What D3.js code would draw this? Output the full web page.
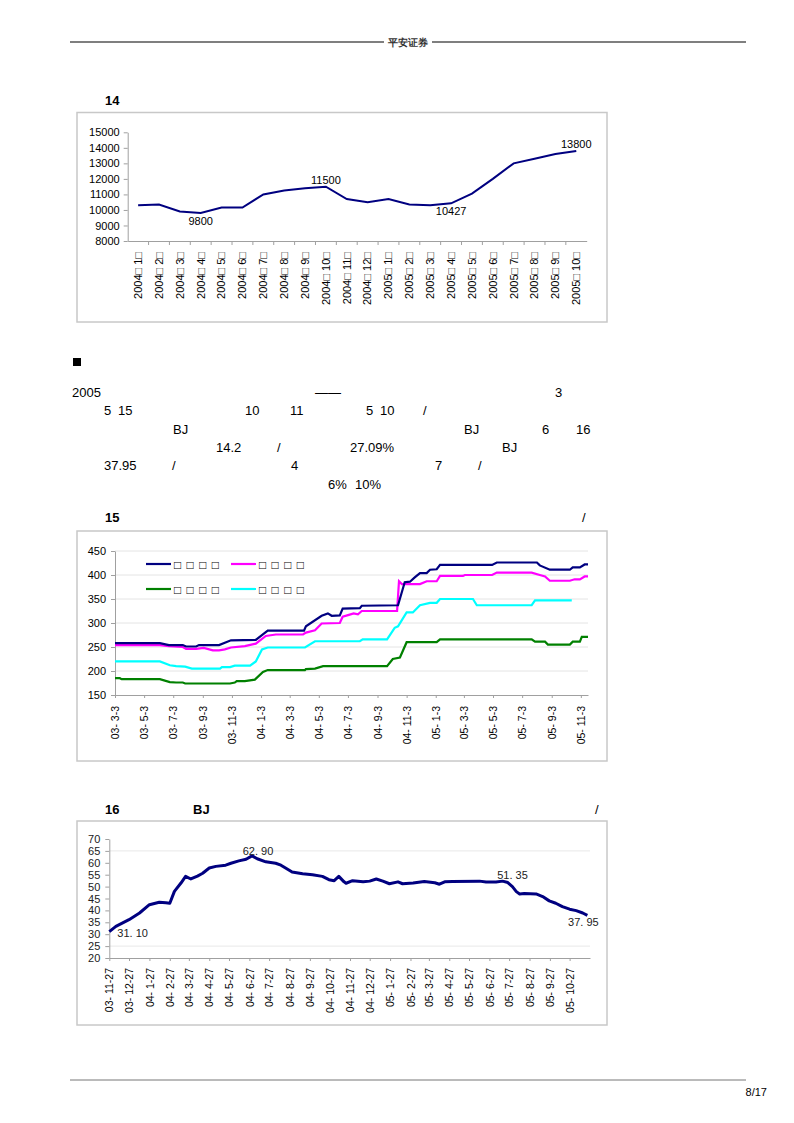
<!DOCTYPE html>
<html>
<head>
<meta charset="utf-8">
<script src="https://cdn.jsdelivr.net/npm/d3@7"></script>
<style>
  body { margin: 0; background: #fff; }
  svg text { font-family: "Liberation Sans", Arial, sans-serif; }
</style>
</head>
<body>
<svg id="page" width="794" height="1123"></svg>
<script>
// ---------------- data ----------------

// chart 14: monthly price
const months14 = [
  "2004□ 1□", "2004□ 2□", "2004□ 3□", "2004□ 4□", "2004□ 5□", "2004□ 6□",
  "2004□ 7□", "2004□ 8□", "2004□ 9□", "2004□ 10□", "2004□ 11□", "2004□ 12□",
  "2005□ 1□", "2005□ 2□", "2005□ 3□", "2005□ 4□", "2005□ 5□", "2005□ 6□",
  "2005□ 7□", "2005□ 8□", "2005□ 9□", "2005□ 10□"
];
const price14 = [
  10300, 10350, 9900, 9800, 10150, 10150, 11000, 11250, 11400, 11500, 10700,
  10500, 10700, 10350, 10300, 10427, 11050, 12000, 13000, 13300, 13600, 13800
];
const yTicks14 = [8000, 9000, 10000, 11000, 12000, 13000, 14000, 15000];
// [index, placement]
const marks14 = [[3, "below"], [9, "above"], [15, "below"], [21, "above"]];

// chart 15: four regional prices
const ticks15 = [
  "03- 3-3", "03- 5-3", "03- 7-3", "03- 9-3", "03- 11-3", "04- 1-3", "04- 3-3",
  "04- 5-3", "04- 7-3", "04- 9-3", "04- 11-3", "05- 1-3", "05- 3-3", "05- 5-3",
  "05- 7-3", "05- 9-3", "05- 11-3"
];
const yTicks15 = [150, 200, 250, 300, 350, 400, 450];
const names15 = ["□ □ □ □", "□ □ □ □", "□ □ □ □", "□ □ □ □"];
const colors15 = ["#000080", "#ff00ff", "#008000", "#00ffff"];

const navy15 = [
  ["2003-03-03", 258], ["2003-06-05", 258], ["2003-06-24", 254], ["2003-07-23", 254],
  ["2003-07-30", 251], ["2003-08-20", 251], ["2003-08-26", 254], ["2003-10-07", 254],
  ["2003-11-01", 264], ["2003-12-23", 265], ["2004-01-17", 284], ["2004-04-02", 284],
  ["2004-04-06", 293], ["2004-05-09", 315], ["2004-05-22", 320], ["2004-05-30", 315],
  ["2004-06-16", 316], ["2004-06-22", 330], ["2004-07-28", 331], ["2004-08-01", 336],
  ["2004-10-16", 337], ["2004-10-30", 385], ["2004-11-10", 386], ["2004-11-20", 395],
  ["2004-12-01", 404], ["2004-12-15", 404], ["2004-12-22", 411], ["2005-01-05", 412],
  ["2005-01-12", 421], ["2005-05-01", 421], ["2005-05-11", 426], ["2005-08-03", 426],
  ["2005-08-09", 420], ["2005-08-30", 411], ["2005-10-11", 411], ["2005-10-17", 416],
  ["2005-11-01", 416], ["2005-11-11", 422], ["2005-11-18", 422]
];
const magenta15 = [
  ["2003-03-03", 254], ["2003-06-05", 254], ["2003-06-24", 252], ["2003-07-23", 250],
  ["2003-07-30", 246], ["2003-08-20", 246], ["2003-09-05", 248], ["2003-09-24", 243],
  ["2003-10-07", 243], ["2003-10-19", 245], ["2003-11-01", 249], ["2003-11-30", 252],
  ["2003-12-23", 257], ["2004-01-13", 273], ["2004-02-03", 276], ["2004-03-31", 276],
  ["2004-04-06", 280], ["2004-04-25", 285], ["2004-05-09", 299], ["2004-06-16", 300],
  ["2004-06-22", 313], ["2004-07-05", 317], ["2004-07-15", 320], ["2004-07-24", 318],
  ["2004-08-01", 325], ["2004-10-14", 325], ["2004-10-18", 387], ["2004-10-24", 381],
  ["2004-12-01", 381], ["2004-12-15", 387], ["2005-01-05", 387], ["2005-01-12", 398],
  ["2005-03-01", 398], ["2005-03-05", 400], ["2005-05-01", 400], ["2005-05-11", 405],
  ["2005-07-23", 405], ["2005-08-09", 400], ["2005-08-20", 397], ["2005-08-30", 388],
  ["2005-10-11", 388], ["2005-10-21", 391], ["2005-11-01", 391], ["2005-11-11", 397],
  ["2005-11-18", 397]
];
const green15 = [
  ["2003-03-03", 185], ["2003-03-13", 185], ["2003-03-17", 183], ["2003-06-05", 183],
  ["2003-06-26", 177], ["2003-07-09", 176], ["2003-07-23", 176], ["2003-07-28", 174],
  ["2003-10-30", 174], ["2003-11-09", 176], ["2003-11-13", 179], ["2003-11-30", 179],
  ["2003-12-21", 182], ["2004-01-07", 198], ["2004-01-17", 202], ["2004-04-04", 202],
  ["2004-04-06", 204], ["2004-04-25", 205], ["2004-05-12", 210], ["2004-09-23", 210],
  ["2004-10-05", 225], ["2004-10-20", 228], ["2004-11-03", 260], ["2005-01-05", 260],
  ["2005-01-12", 266], ["2005-07-23", 266], ["2005-07-30", 261], ["2005-08-20", 261],
  ["2005-08-26", 255], ["2005-10-11", 255], ["2005-10-17", 261], ["2005-11-01", 261],
  ["2005-11-05", 271], ["2005-11-18", 271]
];
const cyan15 = [
  ["2003-03-03", 220], ["2003-06-05", 220], ["2003-06-26", 212], ["2003-07-09", 210],
  ["2003-07-28", 209], ["2003-08-11", 205], ["2003-10-09", 205], ["2003-10-13", 208],
  ["2003-10-30", 208], ["2003-11-09", 211], ["2003-12-11", 211], ["2003-12-23", 220],
  ["2004-01-05", 245], ["2004-01-17", 249], ["2004-04-04", 249], ["2004-04-25", 262],
  ["2004-07-28", 262], ["2004-08-03", 266], ["2004-09-23", 266], ["2004-10-09", 290],
  ["2004-10-16", 293], ["2004-11-03", 322], ["2004-11-16", 322], ["2004-12-01", 337],
  ["2004-12-22", 342], ["2005-01-05", 342], ["2005-01-12", 350], ["2005-03-22", 350],
  ["2005-03-30", 337], ["2005-07-23", 337], ["2005-07-30", 347], ["2005-10-15", 347]
];

// chart 16: BJ price
const ticks16 = [
  "03- 11-27", "03- 12-27", "04- 1-27", "04- 2-27", "04- 3-27", "04- 4-27",
  "04- 5-27", "04- 6-27", "04- 7-27", "04- 8-27", "04- 9-27", "04- 10-27",
  "04- 11-27", "04- 12-27", "05- 1-27", "05- 2-27", "05- 3-27", "05- 4-27",
  "05- 5-27", "05- 6-27", "05- 7-27", "05- 8-27", "05- 9-27", "05- 10-27"
];
const yTicks16 = [20, 25, 30, 35, 40, 45, 50, 55, 60, 65, 70];
const grid16 = [25, 65];
const bj16 = [
  ["2003-11-27", 31.1], ["2003-12-07", 33.3], ["2003-12-27", 36.1], ["2004-01-12", 38.9],
  ["2004-01-27", 42.4], ["2004-02-11", 43.4], ["2004-02-21", 43.2], ["2004-02-27", 43.0],
  ["2004-03-05", 48.0], ["2004-03-15", 51.5], ["2004-03-22", 54.3], ["2004-03-30", 53.2],
  ["2004-04-09", 54.4], ["2004-04-17", 55.6], ["2004-04-27", 57.8], ["2004-05-07", 58.5],
  ["2004-05-22", 59.0], ["2004-05-30", 59.8], ["2004-06-11", 60.8], ["2004-06-22", 61.5],
  ["2004-07-01", 62.9], ["2004-07-09", 61.7], ["2004-07-22", 60.4], ["2004-08-06", 59.8],
  ["2004-08-14", 59.0], ["2004-08-21", 57.8], ["2004-08-31", 56.1], ["2004-09-16", 55.4],
  ["2004-10-01", 55.0], ["2004-10-16", 54.3], ["2004-10-26", 52.9], ["2004-11-03", 52.5],
  ["2004-11-10", 54.3], ["2004-11-18", 52.0], ["2004-11-21", 51.4], ["2004-12-01", 52.5],
  ["2004-12-17", 52.0], ["2004-12-27", 52.3], ["2005-01-06", 53.2], ["2005-01-16", 52.3],
  ["2005-01-26", 51.2], ["2005-02-08", 52.0], ["2005-02-15", 51.2], ["2005-03-03", 51.5],
  ["2005-03-20", 52.1], ["2005-04-05", 51.6], ["2005-04-12", 51.0], ["2005-04-20", 52.0],
  ["2005-05-02", 52.1], ["2005-06-12", 52.3], ["2005-06-22", 51.9], ["2005-07-07", 51.9],
  ["2005-07-17", 52.3], ["2005-07-25", 51.7], ["2005-08-01", 50.0], ["2005-08-07", 47.9],
  ["2005-08-12", 46.9], ["2005-08-19", 47.1], ["2005-09-06", 46.9], ["2005-09-16", 45.8],
  ["2005-09-26", 44.0], ["2005-10-06", 43.0], ["2005-10-16", 41.6], ["2005-10-27", 40.5],
  ["2005-11-06", 39.9], ["2005-11-16", 38.9], ["2005-11-23", 37.95]
];
// [date, label]
const marks16 = [
  ["2003-11-27", "31. 10"], ["2004-07-01", "62. 90"],
  ["2005-07-17", "51. 35"], ["2005-11-23", "37. 95"]
];

// ---------------- page ----------------

const parse = d3.timeParse("%Y-%m-%d");
const svg = d3.select("#page");
svg.append("rect").attr("width", 794).attr("height", 1123).attr("fill", "#fff");

function parse_tick(label) {
  // "03- 11-27" -> Date
  const p = label.replace(/\s/g, "").split("-");
  return new Date(2000 + +p[0], +p[1] - 1, +p[2]);
}

function style_axis(g, size = 11) {
  g.attr("font-family", null).attr("font-size", size);
  g.select(".domain").attr("stroke", "#a0a0a0");
  g.selectAll(".tick line").attr("stroke", "#a0a0a0");
  g.selectAll(".tick text").attr("fill", "#000");
}

function rotate_labels(g, offset) {
  g.selectAll(".tick text")
    .attr("transform", "rotate(-90)")
    .attr("text-anchor", "end")
    .attr("x", -offset)
    .attr("y", 0)
    .attr("dy", "0.35em");
}

function frame(x0, y0, x1, y1) {
  svg.append("rect")
    .attr("x", x0).attr("y", y0)
    .attr("width", x1 - x0).attr("height", y1 - y0)
    .attr("fill", "none").attr("stroke", "#c8c8c8").attr("stroke-width", 1.5);
}

function txt(x, y, s, opts = {}) {
  return svg.append("text")
    .attr("x", x).attr("y", y)
    .attr("font-size", opts.size || 13)
    .attr("font-weight", opts.bold ? "bold" : null)
    .attr("text-anchor", opts.anchor || "start")
    .attr("fill", opts.fill || "#000")
    .text(s);
}

// header and footer
svg.append("line").attr("x1", 70).attr("x2", 384).attr("y1", 42).attr("y2", 42)
  .attr("stroke", "#555").attr("stroke-width", 1.6);
svg.append("line").attr("x1", 432).attr("x2", 746).attr("y1", 42).attr("y2", 42)
  .attr("stroke", "#555").attr("stroke-width", 1.6);
txt(408, 45.5, "平安证券", { size: 9.5, bold: true, anchor: "middle", fill: "#333" })
  .attr("font-family", "Noto Sans CJK SC");
svg.append("line").attr("x1", 70).attr("x2", 746).attr("y1", 1080).attr("y2", 1080)
  .attr("stroke", "#777").attr("stroke-width", 1);
txt(767, 1096, "8/17", { size: 11, anchor: "end" }).attr("font-family", "Liberation Serif");

// ---------------- chart 14 ----------------
txt(105, 104.5, "14", { bold: true });
frame(77, 112.5, 607, 322);

const x14 = d3.scaleBand().domain(months14).range([127.7, 586.7]);
const y14 = d3.scaleLinear().domain([8000, 15000]).range([241, 132.3]);

svg.append("g").attr("transform", "translate(127.7,0)")
  .call(d3.axisLeft(y14).tickValues(yTicks14).tickFormat(d3.format("d"))
    .tickSize(4).tickPadding(4).tickSizeOuter(0))
  .call(style_axis);

svg.append("g").attr("transform", "translate(0,241)")
  .call(d3.axisBottom(x14).tickSize(0).tickSizeOuter(0))
  .call(style_axis)
  .call((g) => rotate_labels(g, 11));

// ticks on band edges
svg.append("g").selectAll("line")
  .data(months14.slice(1))
  .join("line")
  .attr("x1", (d) => x14(d)).attr("x2", (d) => x14(d))
  .attr("y1", 241).attr("y2", 245)
  .attr("stroke", "#a0a0a0");

const line14 = d3.line()
  .x((d, i) => x14(months14[i]) + x14.bandwidth() / 2)
  .y((d) => y14(d));
svg.append("path").datum(price14)
  .attr("d", line14)
  .attr("fill", "none").attr("stroke", "#000080").attr("stroke-width", 2);

svg.append("g").selectAll("text")
  .data(marks14)
  .join("text")
  .attr("x", (d) => x14(months14[d[0]]) + x14.bandwidth() / 2)
  .attr("y", (d) => y14(price14[d[0]]) + (d[1] === "above" ? -3 : 12))
  .attr("text-anchor", "middle")
  .attr("font-size", 11)
  .text((d) => price14[d[0]]);

// ---------------- text block ----------------
svg.append("rect").attr("x", 73).attr("y", 358).attr("width", 8).attr("height", 8).attr("fill", "#000");
const words = [
  [72, 396.5, "2005"], [315, 396.5, "——"], [555, 396.5, "3"],
  [104, 415, "5"], [118, 415, "15"], [245, 415, "10"], [290, 415, "11"],
  [366, 415, "5"], [380, 415, "10"], [423, 415, "/"],
  [173, 433.5, "BJ"], [464, 433.5, "BJ"], [542, 433.5, "6"], [576, 433.5, "16"],
  [216, 452, "14.2"], [277, 452, "/"], [350, 452, "27.09%"], [502, 452, "BJ"],
  [104, 470, "37.95"], [172, 470, "/"], [291, 470, "4"], [435, 470, "7"], [478, 470, "/"],
  [328, 488.5, "6%"], [355, 488.5, "10%"]
];
words.forEach((w) => txt(w[0], w[1], w[2]));

// ---------------- chart 15 ----------------
txt(105, 521.5, "15", { bold: true });
txt(582, 521.5, "/");
frame(77, 531, 607, 761);

const x15 = d3.scaleTime().domain([parse("2003-03-03"), parse("2005-11-18")]).range([115, 588]);
const y15 = d3.scaleLinear().domain([150, 450]).range([695, 551]);

svg.append("g").selectAll("line")
  .data(yTicks15.slice(1))
  .join("line")
  .attr("x1", 115).attr("x2", 588)
  .attr("y1", (d) => y15(d)).attr("y2", (d) => y15(d))
  .attr("stroke", "#e4e4e4");

svg.append("g").attr("transform", "translate(115,0)")
  .call(d3.axisLeft(y15).tickValues(yTicks15).tickSize(4).tickPadding(5).tickSizeOuter(0))
  .call(style_axis);

svg.append("g").attr("transform", "translate(0,695)")
  .call(d3.axisBottom(x15).tickValues(ticks15.map(parse_tick))
    .tickFormat((d, i) => ticks15[i]).tickSize(3).tickSizeOuter(0))
  .call((g) => style_axis(g, 10.5))
  .call((g) => rotate_labels(g, 11));

const line15 = d3.line()
  .x((d) => x15(parse(d[0])))
  .y((d) => y15(d[1]));
const series15 = [navy15, magenta15, green15, cyan15];
// draw green and cyan first so navy sits on top
[2, 3, 1, 0].forEach((idx) => {
  svg.append("path").datum(series15[idx])
    .attr("d", line15)
    .attr("fill", "none").attr("stroke", colors15[idx]).attr("stroke-width", 2.2);
});

// legend
const legend = svg.append("g");
names15.forEach((name, i) => {
  const lx = 146 + (i % 2) * 85;
  const ly = 564 + Math.floor(i / 2) * 25;
  legend.append("line")
    .attr("x1", lx).attr("x2", lx + 25).attr("y1", ly).attr("y2", ly)
    .attr("stroke", colors15[i]).attr("stroke-width", 2.2);
  legend.append("text")
    .attr("x", lx + 28).attr("y", ly + 4.5)
    .attr("font-size", 12)
    .attr("letter-spacing", 1)
    .attr("font-family", "DejaVu Sans")
    .text(name);
});

// ---------------- chart 16 ----------------
txt(105, 813.5, "16", { bold: true });
txt(193, 813.5, "BJ", { bold: true });
txt(595, 813.5, "/");
frame(77, 821, 607, 1025);

const x16 = d3.scaleTime().domain([parse("2003-11-27"), parse("2005-11-27")]).range([109.3, 590]);
const y16 = d3.scaleLinear().domain([20, 70]).range([958, 839]);

svg.append("g").selectAll("line")
  .data(grid16)
  .join("line")
  .attr("x1", 109.3).attr("x2", 590)
  .attr("y1", (d) => y16(d)).attr("y2", (d) => y16(d))
  .attr("stroke", "#e8e8e8");

svg.append("g").attr("transform", "translate(109.3,0)")
  .call(d3.axisLeft(y16).tickValues(yTicks16).tickSize(4).tickPadding(5).tickSizeOuter(0))
  .call((g) => style_axis(g, 11))
  .call((g) => g.selectAll(".tick text").attr("fill", "#222"));

svg.append("g").attr("transform", "translate(0,958)")
  .call(d3.axisBottom(x16).tickValues(ticks16.map(parse_tick))
    .tickFormat((d, i) => ticks16[i]).tickSize(3).tickSizeOuter(0))
  .call((g) => style_axis(g, 10.5))
  .call((g) => rotate_labels(g, 10));

const line16 = d3.line()
  .x((d) => x16(parse(d[0])))
  .y((d) => y16(d[1]));
svg.append("path").datum(bj16)
  .attr("d", line16)
  .attr("fill", "none").attr("stroke", "#000080").attr("stroke-width", 3)
  .attr("stroke-linejoin", "round");

// data labels, offsets relative to the marked point
const offs16 = [[8, 5, "start"], [6, -1, "middle"], [10, -2, "middle"], [-4, 11, "middle"]];
marks16.forEach((m, i) => {
  const pt = bj16.find((d) => d[0] === m[0]);
  txt(x16(parse(pt[0])) + offs16[i][0], y16(pt[1]) + offs16[i][1], m[1],
    { size: 11, anchor: offs16[i][2], fill: "#222" });
});
</script>
</body>
</html>
